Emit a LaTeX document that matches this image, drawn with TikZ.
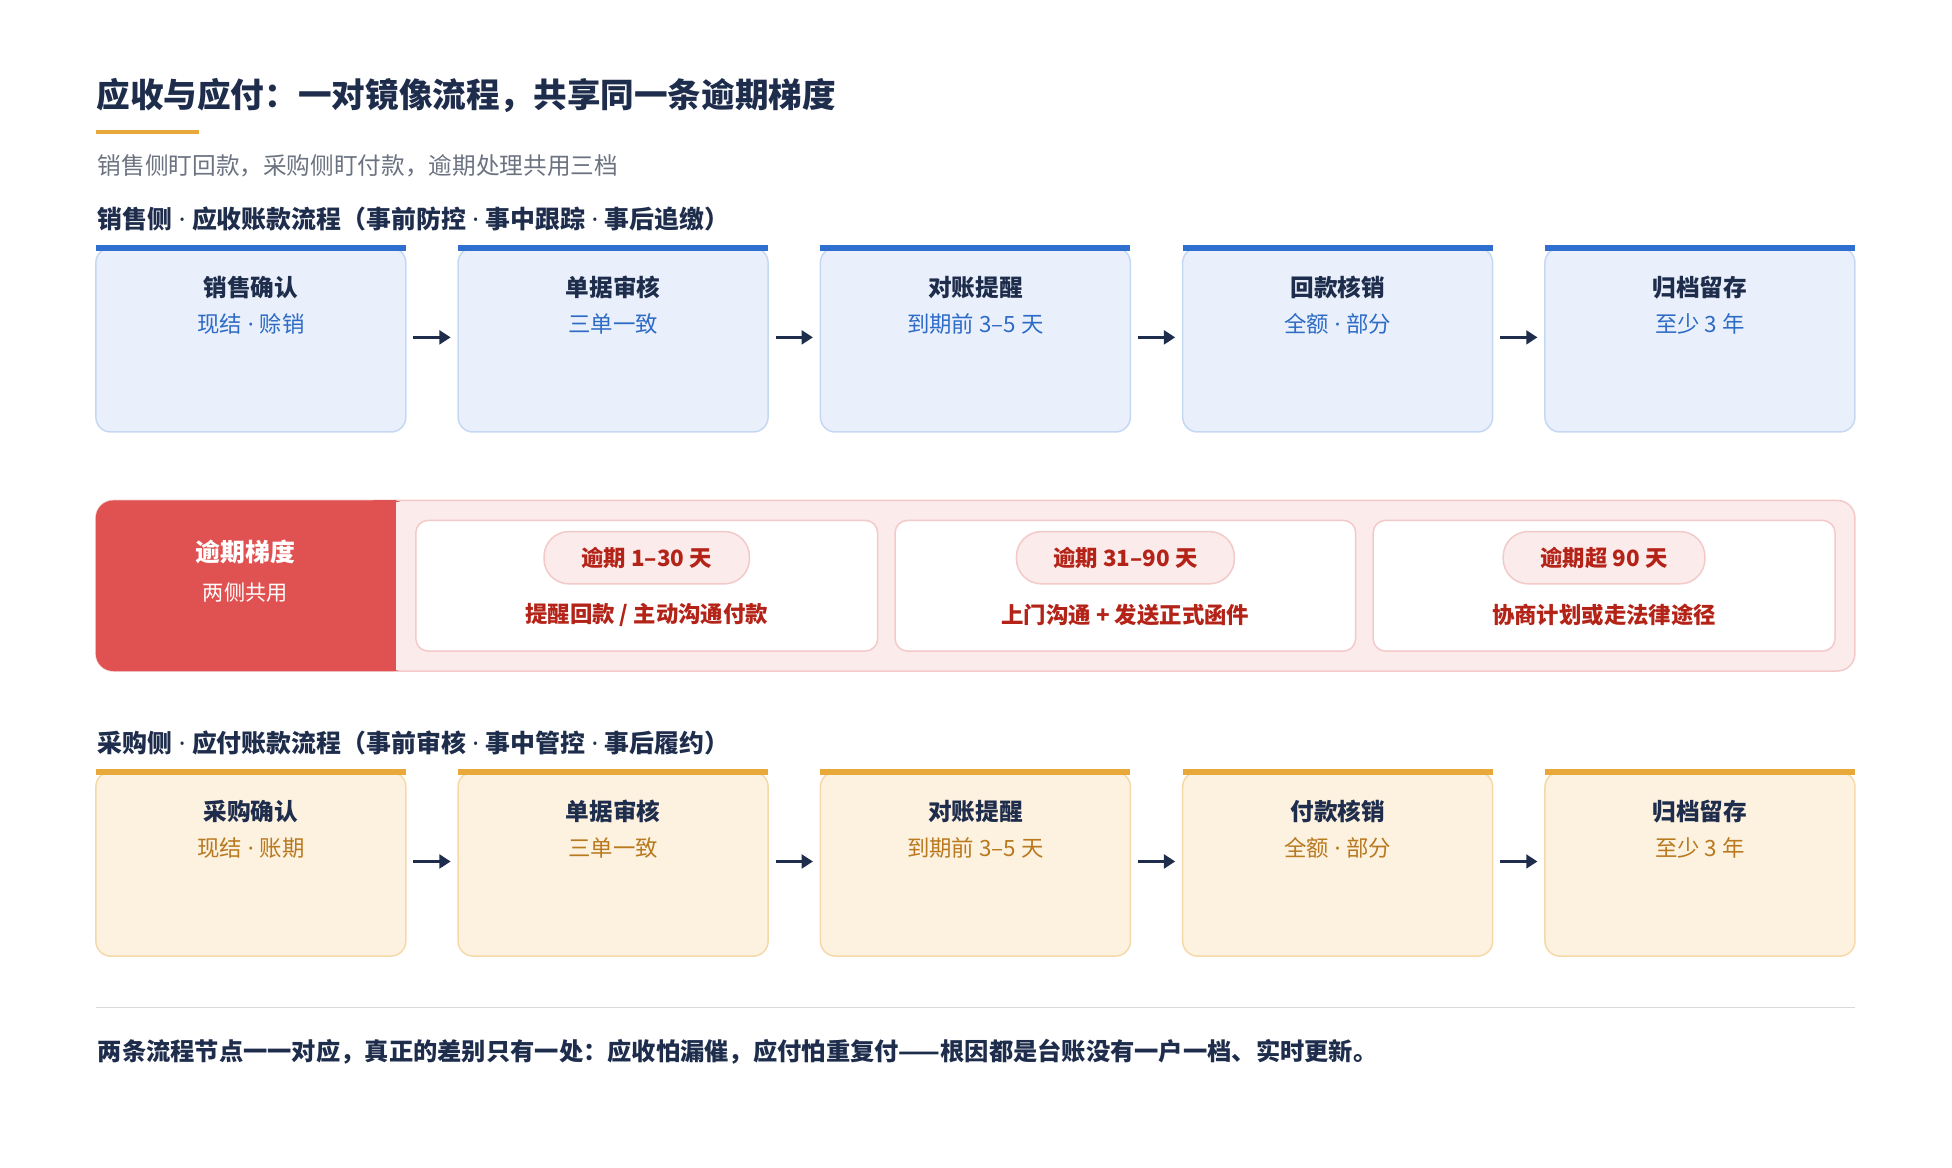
\documentclass[tikz,border=0pt]{standalone}
\usepackage{fontspec}
\setmainfont{Noto Sans CJK SC}
\newfontfamily\lat{Noto Sans}
\newcommand{\md}{{\lat\ ·\ }}
\usetikzlibrary{arrows.meta}
\definecolor{navy}{HTML}{1F2D4D}
\definecolor{bfill}{HTML}{E9F0FB}
\definecolor{bline}{HTML}{C5D8F3}
\definecolor{bbar}{HTML}{2F6FCF}
\definecolor{btxt}{HTML}{2E6BC6}
\definecolor{ofill}{HTML}{FDF1DF}
\definecolor{oline}{HTML}{F5D9A8}
\definecolor{obar}{HTML}{E8A93A}
\definecolor{otxt}{HTML}{B8791F}
\definecolor{rfill}{HTML}{FCEBEB}
\definecolor{rline}{HTML}{F3C9C9}
\definecolor{rmain}{HTML}{E05252}
\definecolor{rtxt}{HTML}{B42318}
\definecolor{gtxt}{HTML}{6B7280}
\begin{document}
\begin{tikzpicture}[x=1pt,y=-1pt,
 ttl/.style={font=\bfseries\fontsize{19}{21}\selectfont,text=navy},
 sb/.style={font=\fontsize{18}{20}\selectfont},
 hdr/.style={font=\bfseries\fontsize{20}{22}\selectfont,text=navy,anchor=west},
 arr/.style={-{Triangle[length=9pt,width=11pt]},line width=2.5pt,navy}]
\useasboundingbox (0,0) rectangle (1568,938);
\node[anchor=west,font=\bfseries\fontsize{27}{30}\selectfont,text=navy] (t) at (74,77) {应收与应付：一对镜像流程，共享同一条逾期梯度};
\draw[obar,line width=3.5pt] (77,106) -- (160,106);
\node[anchor=west,font=\fontsize{19}{21}\selectfont,text=gtxt] (st) at (75,133) {销售侧盯回款，采购侧盯付款，逾期处理共用三档};
\node[hdr] (h1) at (75,176) {销售侧\md 应收账款流程（事前防控\md 事中跟踪\md 事后追缴）};
\node[hdr] (h2) at (75,597) {采购侧\md 应付账款流程（事前审核\md 事中管控\md 事后履约）};
\foreach \i/\a/\b in {0/销售确认/现结\md 赊销,1/单据审核/三单一致,2/对账提醒/到期前 3–5 天,3/回款核销/全额\md 部分,4/归档留存/至少 3 年}{
 \pgfmathsetmacro\xl{77+291*\i}
 \draw[bline,fill=bfill,line width=1.2pt,rounded corners=12pt] (\xl,199) rectangle ++(249,148);
 \draw[bbar,line width=5pt] (\xl,199) -- ++(249,0);
 \node[ttl] (s\i t) at (\xl+124.5,231) {\a};
 \node[sb,text=btxt] (s\i s) at (\xl+124.5,260) {\b};
 \coordinate (s\i L) at (\xl,271); \coordinate (s\i R) at (\xl+249,271);
}
\foreach \i/\a/\b in {0/采购确认/现结\md 账期,1/单据审核/三单一致,2/对账提醒/到期前 3–5 天,3/付款核销/全额\md 部分,4/归档留存/至少 3 年}{
 \pgfmathsetmacro\xl{77+291*\i}
 \draw[oline,fill=ofill,line width=1.2pt,rounded corners=12pt] (\xl,620) rectangle ++(249,148);
 \draw[obar,line width=5pt] (\xl,620) -- ++(249,0);
 \node[ttl] (p\i t) at (\xl+124.5,652) {\a};
 \node[sb,text=otxt] (p\i s) at (\xl+124.5,681) {\b};
 \coordinate (p\i L) at (\xl,692); \coordinate (p\i R) at (\xl+249,692);
}
\foreach \i/\j in {0/1,1/2,2/3,3/4}{
 \draw[arr] ([xshift=6pt]s\i R) -- ([xshift=-6pt]s\j L);
 \draw[arr] ([xshift=6pt]p\i R) -- ([xshift=-6pt]p\j L);
}
% overdue panel
\draw[rline,fill=rfill,line width=1.2pt,rounded corners=14pt] (77,402) rectangle (1490,539);
\fill[rmain,rounded corners=14pt] (77,402) rectangle (330,539);
\fill[rmain] (300,402) rectangle (318,539);
\fill[rfill] (318,403) rectangle (335,538);
\node[font=\bfseries\fontsize{20}{22}\selectfont,text=white] (g1) at (197,443) {逾期梯度};
\node[font=\fontsize{17}{19}\selectfont,text=white] (g2) at (197,476) {两侧共用};
\foreach \i/\xl/\xr/\w/\a/\b in {0/334/705/165/逾期 1–30 天/{提醒回款 / 主动沟通付款},1/719/1089/175/逾期 31–90 天/上门沟通 + 发送正式函件,2/1103/1474/162/逾期超 90 天/协商计划或走法律途径}{
 \draw[rline,fill=white,line width=1.2pt,rounded corners=10pt] (\xl,418) rectangle (\xr,523);
 \pgfmathsetmacro\xc{(\xl+\xr)/2}
 \node[draw=rline,fill=rfill,line width=1.2pt,rounded corners=20pt,minimum width=\w pt,minimum height=42pt,font=\bfseries\fontsize{18}{20}\selectfont,text=rtxt] (k\i) at (\xc,448) {\a};
 \node[font=\bfseries\fontsize{18}{20}\selectfont,text=rtxt] (d\i) at (\xc,494) {\b};
}
\draw[gray!30,line width=1pt] (77,809) -- (1490,809);
\node[anchor=west,font=\bfseries\fontsize{19.5}{21}\selectfont,text=navy] (f) at (75,845) {两条流程节点一一对应，真正的差别只有一处：应收怕漏催，应付怕重复付——根因都是台账没有一户一档、实时更新。};
\end{tikzpicture}
\end{document}
